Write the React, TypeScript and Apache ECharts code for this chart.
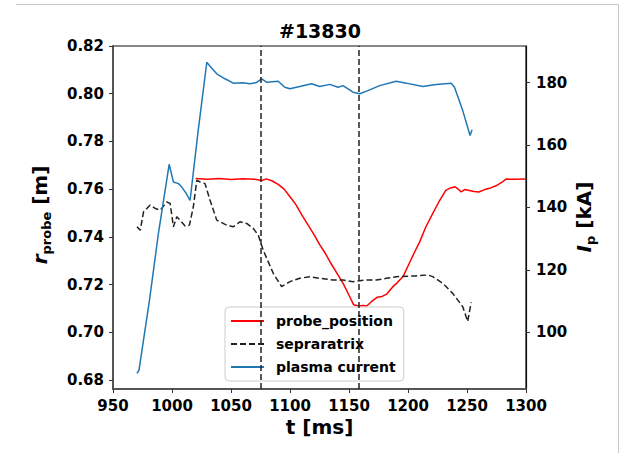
import React, { useEffect, useRef } from "react";
import * as echarts from "echarts";

const TITLE = "#13830";
const X_TICKS_MIN = 950;
const X_TICKS_MAX = 1300;
const LEFT_TICKS = [0.68, 0.7, 0.72, 0.74, 0.76, 0.78, 0.8, 0.82];
const RIGHT_TICKS = [100, 120, 140, 160, 180];
const VLINES = [1075, 1158];

const probeT = [1020, 1030, 1040, 1050, 1060, 1070, 1076, 1080, 1085, 1090, 1095, 1100, 1105, 1110, 1115, 1120, 1125, 1130, 1135, 1140, 1145, 1150, 1154, 1158, 1162, 1165, 1169, 1174, 1178, 1182, 1187, 1191, 1196, 1201, 1205, 1210, 1215, 1221, 1226, 1232, 1236, 1240, 1243, 1245, 1248, 1252, 1256, 1260, 1265, 1270, 1275, 1280, 1283, 1290, 1300];
const probeR = [0.7644, 0.7641, 0.7645, 0.764, 0.7643, 0.7641, 0.7636, 0.7643, 0.7634, 0.762, 0.76, 0.7568, 0.7535, 0.7492, 0.7452, 0.7412, 0.7368, 0.733, 0.7286, 0.7246, 0.7205, 0.7155, 0.7115, 0.711, 0.7112, 0.711, 0.7128, 0.7147, 0.715, 0.716, 0.719, 0.7208, 0.7235, 0.7288, 0.733, 0.738, 0.744, 0.7498, 0.7545, 0.7595, 0.7605, 0.761, 0.7598, 0.7588, 0.7598, 0.7594, 0.759, 0.7588, 0.7598, 0.7605, 0.7615, 0.763, 0.7642, 0.7641, 0.7642];

const sepT = [970.3, 973.1, 975.9, 981.5, 985.8, 990, 995.6, 998.4, 1001.2, 1004.1, 1006.9, 1011.1, 1014.8, 1018.1, 1021, 1023.8, 1028, 1032.2, 1037.9, 1046.4, 1051.9, 1057.6, 1063.3, 1068.9, 1073.1, 1077.3, 1085.8, 1092.9, 1099.9, 1108.3, 1116.8, 1125.2, 1136.5, 1144.9, 1153.4, 1164.7, 1173.2, 1181.6, 1190.1, 1207, 1216.8, 1221, 1229.5, 1237.9, 1246.4, 1250.6, 1253.5];
const sepR = [0.7442, 0.7428, 0.7505, 0.7533, 0.7519, 0.7512, 0.7546, 0.754, 0.7442, 0.7484, 0.747, 0.7445, 0.7449, 0.7526, 0.7637, 0.763, 0.7623, 0.7554, 0.747, 0.7449, 0.7442, 0.7463, 0.7456, 0.7435, 0.7407, 0.7344, 0.7247, 0.7191, 0.7212, 0.7226, 0.7233, 0.7226, 0.7219, 0.7219, 0.7212, 0.7219, 0.7219, 0.7226, 0.7233, 0.7236, 0.724, 0.7233, 0.7205, 0.7163, 0.7107, 0.7045, 0.7125];

const ipT = [970.3, 972, 980.9, 988.5, 997.6, 1001.2, 1005.5, 1008.3, 1012, 1015.3, 1022, 1029.5, 1032.2, 1037.9, 1044.9, 1052, 1060, 1066, 1071, 1076, 1080.2, 1090, 1095.6, 1099.9, 1108.3, 1118.2, 1125.2, 1133.7, 1140.7, 1144.9, 1153.4, 1159.1, 1166, 1176, 1190, 1198.5, 1212.6, 1223.9, 1236.6, 1239.4, 1246.4, 1252.6, 1254.3];
const ipKA = [86.8, 87.8, 110.2, 131.7, 153.8, 148.1, 147.6, 146.5, 144.5, 142.2, 164, 186.5, 185.2, 182.8, 181.2, 179.8, 179.9, 179.6, 179.9, 181.2, 180.1, 180.4, 178.5, 178.0, 178.7, 179.6, 178.7, 179.4, 178.5, 179.0, 176.9, 176.4, 177.4, 179.0, 180.4, 179.8, 178.7, 179.4, 179.8, 178.5, 171.0, 163.0, 164.9];

const FONT = "DejaVu Sans";

const zip = (a: number[], b: number[]) => a.map((v, i) => [v, b[i]]);

export default function App() {
  const ref = useRef<HTMLDivElement>(null);
  useEffect(() => {
    if (!ref.current) return;
    const chart = echarts.init(ref.current, null, { renderer: "svg" });
    const tickLabel = { color: "#000", fontSize: 15, fontWeight: "bold", fontFamily: FONT };
    const option: any = {
      animation: false,
      backgroundColor: "#fff",
      grid: { left: 113, top: 46, width: 413, height: 343, show: true, borderColor: "#111", borderWidth: 1.2, backgroundColor: "transparent" },
      xAxis: {
        type: "value", min: X_TICKS_MIN, max: X_TICKS_MAX, interval: 50,
        splitLine: { show: false },
        axisLine: { show: true, lineStyle: { color: "#555", width: 2 } },
        axisTick: { show: true, length: 4, lineStyle: { color: "#333" } },
        axisLabel: { ...tickLabel, margin: 9, formatter: (v: number) => String(v) },
      },
      yAxis: [
        {
          type: "value", min: 0.6762, max: 0.82,
          splitLine: { show: false },
          axisLine: { show: true, lineStyle: { color: "#555", width: 2 } },
          axisTick: { show: true, length: 4, lineStyle: { color: "#333" }, customValues: LEFT_TICKS },
          axisLabel: { ...tickLabel, margin: 9, customValues: LEFT_TICKS, formatter: (v: number) => v.toFixed(2) },
        },
        {
          type: "value", min: 81.8, max: 191.7, position: "right",
          splitLine: { show: false },
          axisLine: { show: true, lineStyle: { color: "#111", width: 1.2 } },
          axisTick: { show: true, length: 4, lineStyle: { color: "#333" }, customValues: RIGHT_TICKS },
          axisLabel: { ...tickLabel, margin: 10, customValues: RIGHT_TICKS, formatter: (v: number) => String(v) },
        },
      ],
      legend: {
        orient: "vertical", left: 225, top: 307,
        padding: [7, 8, 7, 5], itemGap: 9, itemWidth: 33, itemHeight: 14,
        backgroundColor: "rgba(255,255,255,0.8)", borderColor: "#ccc", borderWidth: 1, borderRadius: 4,
        itemStyle: { opacity: 0 },
        textStyle: { color: "#000", fontSize: 14, fontWeight: "bold", fontFamily: FONT, padding: [0, 0, 0, 7] },
        data: ["probe_position", "sepraratrix", "plasma current"],
      },
      series: [
        {
          name: "probe_position", type: "line", xAxisIndex: 0, yAxisIndex: 0,
          data: zip(probeT, probeR), symbol: "none",
          lineStyle: { color: "#ff0000", width: 1.5 }, itemStyle: { color: "#ff0000" },
          markLine: {
            silent: true, symbol: "none", label: { show: false },
            lineStyle: { color: "#222", width: 1.5, type: [6, 3] },
            data: VLINES.map((v) => ({ xAxis: v })),
          },
        },
        {
          name: "sepraratrix", type: "line", xAxisIndex: 0, yAxisIndex: 0,
          data: zip(sepT, sepR), symbol: "none",
          lineStyle: { color: "#222", width: 1.5, type: [6, 3] }, itemStyle: { color: "#222" },
        },
        {
          name: "plasma current", type: "line", xAxisIndex: 0, yAxisIndex: 1,
          data: zip(ipT, ipKA), symbol: "none",
          lineStyle: { color: "#1f77b4", width: 1.5 }, itemStyle: { color: "#1f77b4" },
        },
      ],
      graphic: [
        { type: "line", shape: { x1: 16, y1: 4.5, x2: 618.5, y2: 4.5 }, style: { stroke: "#c8c8c8", lineWidth: 1 } },
        { type: "line", shape: { x1: 618.5, y1: 4.5, x2: 618.5, y2: 453 }, style: { stroke: "#c8c8c8", lineWidth: 1 } },
        {
          type: "text", x: 320, y: 31,
          style: { text: TITLE, fontSize: 19, fontWeight: "bold", fontFamily: FONT, fill: "#000", align: "center", verticalAlign: "middle" },
        },
        {
          type: "text", x: 319.5, y: 427,
          style: { text: "t [ms]", fontSize: 20, fontWeight: "bold", fontFamily: FONT, fill: "#000", align: "center", verticalAlign: "middle" },
        },
        {
          type: "text", x: 40, y: 215, rotation: Math.PI / 2,
          style: {
            text: "{r|r}{s|probe}{m| [m]}", align: "center", verticalAlign: "middle", fill: "#000",
            rich: {
              r: { fontSize: 20, fontStyle: "italic", fontWeight: "bold", fontFamily: FONT, lineHeight: 26, verticalAlign: "middle" },
              s: { fontSize: 13, fontWeight: "bold", fontFamily: FONT, lineHeight: 15, verticalAlign: "bottom" },
              m: { fontSize: 20, fontWeight: "bold", fontFamily: FONT, lineHeight: 26, verticalAlign: "middle" },
            },
          },
        },
        {
          type: "text", x: 584, y: 217, rotation: Math.PI / 2,
          style: {
            text: "{r|I}{s|p}{m| [kA]}", align: "center", verticalAlign: "middle", fill: "#000",
            rich: {
              r: { fontSize: 20, fontStyle: "italic", fontWeight: "bold", fontFamily: FONT, lineHeight: 26, verticalAlign: "middle" },
              s: { fontSize: 13, fontWeight: "bold", fontFamily: FONT, lineHeight: 15, verticalAlign: "bottom" },
              m: { fontSize: 20, fontWeight: "bold", fontFamily: FONT, lineHeight: 26, verticalAlign: "middle" },
            },
          },
        },
      ],
    };
    chart.setOption(option);
    return () => chart.dispose();
  }, []);
  return <div ref={ref} style={{ position: "fixed", left: 0, top: 0, width: 625, height: 453 }} />;
}
